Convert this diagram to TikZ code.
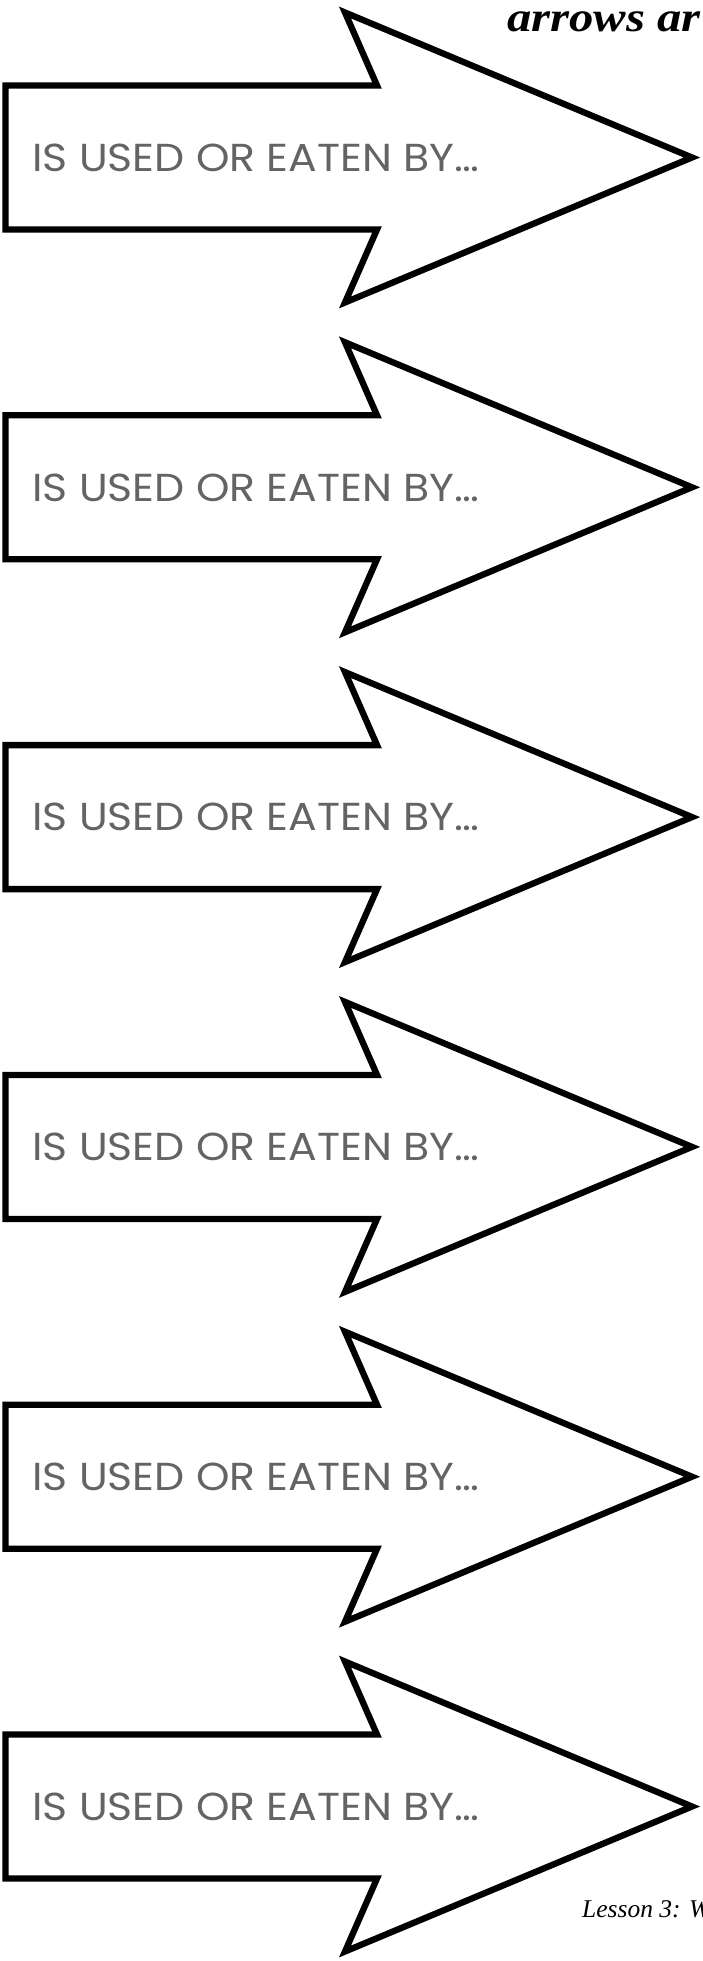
\documentclass[tikz,border=0pt]{standalone}
\usepackage{fontspec}
\setmainfont{Liberation Serif}
\newfontfamily\labelfont{Poppins}
\definecolor{labelgray}{HTML}{646464}
\begin{document}
\begin{tikzpicture}[x=1pt,y=-1pt,
  arrowshape/.style={draw=black, line width=6.3pt, line join=miter, fill=white},
  usedlabel/.style={text=labelgray, font=\labelfont\fontsize{39}{39}\selectfont, anchor=base west, inner sep=0pt},
  headtext/.style={font=\bfseries\itshape\fontsize{42}{42}\selectfont, anchor=base west, inner sep=0pt},
  foottext/.style={font=\itshape\fontsize{25.5}{25.5}\selectfont, anchor=base west, inner sep=0pt}]
\useasboundingbox (0,0) rectangle (702,1961);
\clip (0,0) rectangle (702,1961);
\foreach \i/\c in {1/157.5, 2/487.3, 3/817.1, 4/1146.9, 5/1476.7, 6/1806.5} {
  \draw[arrowshape] (5.5,\c-72) -- (377,\c-72) -- (345,\c-145) -- (692,\c)
    -- (345,\c+145) -- (377,\c+72) -- (5.5,\c+72) -- cycle;
  \node[usedlabel] (label\i) at (32,\c+13.7) {\resizebox{447pt}{\height}{IS USED OR EATEN BY…}};
}
\node[headtext] (head) at (507,32) {\scalebox{1.16}[1]{arrows ar}};
\node[foottext] (foot) at (582,1917) {Lesson 3: W};
\end{tikzpicture}
\end{document}
